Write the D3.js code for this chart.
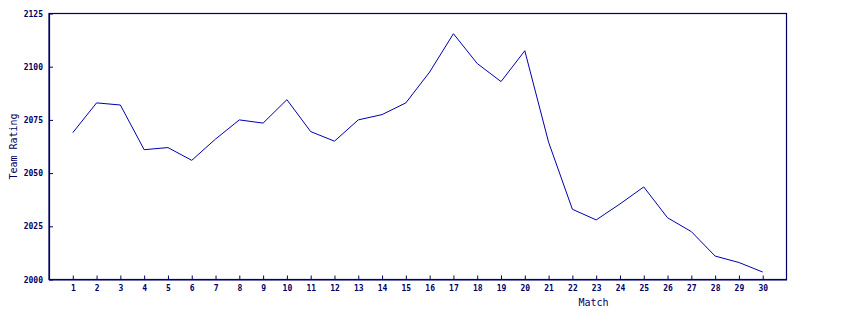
<!DOCTYPE html>
<html>
<head>
<meta charset="utf-8">
<script src="https://cdn.jsdelivr.net/npm/d3@7"></script>
<style>
  body { margin: 0; background: #ffffff; }
  svg { display: block; }
</style>
</head>
<body>
<svg id="chart" width="842" height="328"></svg>
<script>
// match numbers along the bottom
let matches = d3.range(1, 31)
// team rating after each match
let ratings = [2069, 2083, 2082, 2061, 2062, 2056, 2066, 2075, 2073.5, 2084.5,
               2069.5, 2065, 2075, 2077.5, 2083, 2097.5, 2115.5, 2101.5, 2093, 2107.5,
               2064.5, 2033, 2028, 2035.5, 2043.5, 2029, 2022.5, 2011, 2008, 2003.5]
let yTicks = [2000, 2025, 2050, 2075, 2100, 2125]

// plot frame
let plotLeft = 49, plotRight = 786.5, plotTop = 13.5, plotBottom = 279.5
let axisColor = "#000066"

let svg = d3.select("#chart")

let xscale = d3.scaleLinear().domain([0, 31]).range([plotLeft, plotRight])
let yscale = d3.scaleLinear().domain([2000, 2125]).range([plotBottom, plotTop])

// frame round the plot
svg.append("rect")
    .attr("x", plotLeft).attr("y", plotTop)
    .attr("width", plotRight - plotLeft).attr("height", plotBottom - plotTop)
    .attr("fill", "none")
    .attr("stroke", axisColor)
    .attr("stroke-width", 1.2)

let xAxis = d3.axisBottom(xscale).tickValues(matches).tickSizeInner(-4).tickSizeOuter(0).tickPadding(6)
let gx = svg.append("g").attr("transform", "translate(0," + plotBottom + ")").call(xAxis)

let yAxis = d3.axisLeft(yscale).tickValues(yTicks).tickFormat(d3.format("d"))
    .tickSizeInner(-4).tickSizeOuter(0).tickPadding(6)
let gy = svg.append("g").attr("transform", "translate(" + plotLeft + ",0)").call(yAxis)

for (let g of [gx, gy]) {
    g.select(".domain").attr("stroke", axisColor).attr("stroke-width", 1.2)
    g.selectAll(".tick line").attr("stroke", axisColor)
    g.selectAll(".tick text")
        .attr("fill", axisColor)
        .style("font-family", "DejaVu Sans Mono, monospace")
        .style("font-weight", "bold")
        .style("font-size", "8px")
}

let lineFunction = d3.line()
    .x((d, i) => xscale(matches[i]))
    .y(d => yscale(d))

svg.append("path")
    .datum(ratings)
    .attr("d", lineFunction)
    .attr("fill", "none")
    .attr("stroke", "#0000b0")
    .attr("stroke-width", 1)

// axis titles
svg.append("text")
    .attr("x", 593.5).attr("y", 306)
    .attr("text-anchor", "middle")
    .attr("fill", axisColor)
    .style("font-family", "DejaVu Sans Mono, monospace")
    .style("font-size", "10px")
    .text("Match")

svg.append("text")
    .attr("transform", "translate(17," + (plotTop + plotBottom) / 2 + ") rotate(-90)")
    .attr("text-anchor", "middle")
    .attr("fill", axisColor)
    .style("font-family", "DejaVu Sans Mono, monospace")
    .style("font-size", "10px")
    .text("Team Rating")
</script>
</body>
</html>
